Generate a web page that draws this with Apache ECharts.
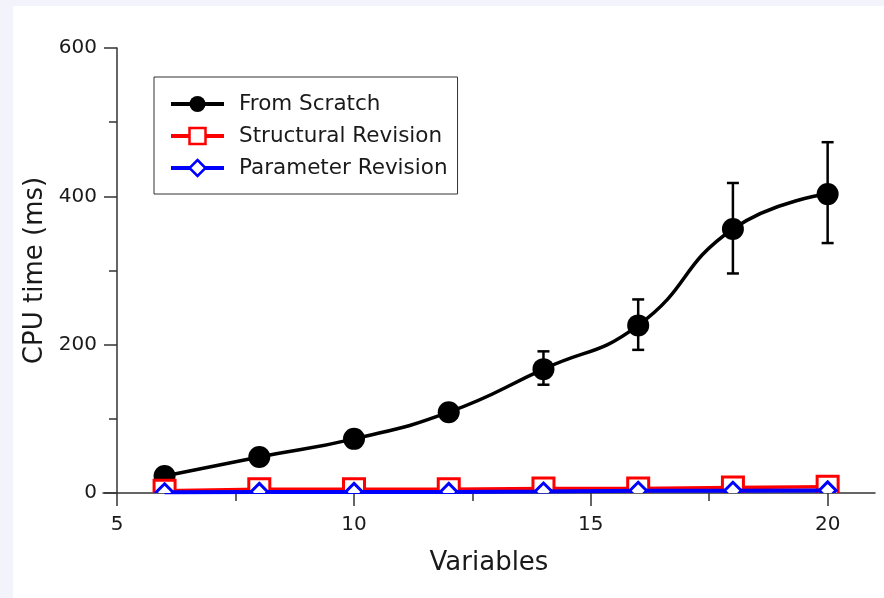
<!DOCTYPE html>
<html>
<head>
<meta charset="utf-8">
<script src="https://cdn.jsdelivr.net/npm/echarts@6/dist/echarts.min.js"></script>
<style>
  html, body { margin: 0; padding: 0; background: #ffffff; }
  #chart { width: 884px; height: 598px; }
</style>
</head>
<body>
<div id="chart"></div>
<script>
// ---- data ----
const variables = [6, 8, 10, 12, 14, 16, 18, 20];
const fromScratch = [23, 48.5, 73, 109, 167, 226, 356, 403];
const scratchLow  = [20, 44, 67, 100, 146, 193, 296, 337];
const scratchHigh = [27, 53, 80, 118, 191, 261, 418, 473];
const structuralRevision = [3, 5, 5, 5, 6, 6, 7.5, 8.5];
const parameterRevision  = [1, 1.5, 1.5, 1.5, 2, 3, 3, 3.5];
const xMajorTicks = [5, 10, 15, 20];
const xMinorTicks = [7.5, 12.5, 17.5];
const seriesNames = ['From Scratch', 'Structural Revision', 'Parameter Revision'];

const FONT = 'DejaVu Sans';
const TEXT = '#1a1a1a';
const AXIS = '#333333';

const pairs = (ys) => variables.map((x, i) => [x, ys[i]]);
const errData = variables.map((x, i) => [x, scratchLow[i], scratchHigh[i]]);

function markerSeries(values, z, makeShape) {
  return {
    type: 'custom',
    z: z,
    clip: true,
    silent: true,
    data: pairs(values),
    renderItem: function (params, api) {
      const p = api.coord([api.value(0), api.value(1)]);
      return makeShape(p[0], p[1]);
    }
  };
}

const chart = echarts.init(document.getElementById('chart'), null, { renderer: 'canvas' });

const option = {
  animation: false,
  backgroundColor: '#ffffff',
  graphic: [
    { type: 'rect', z: -10, shape: { x: 0, y: 0, width: 884, height: 6 }, style: { fill: '#f3f3fc' } },
    { type: 'rect', z: -10, shape: { x: 0, y: 0, width: 13, height: 598 }, style: { fill: '#f3f3fc' } }
  ],
  grid: { left: 103, right: 9, top: 48, bottom: 105, containLabel: false },
  legend: {
    data: seriesNames,
    orient: 'vertical',
    left: 154,
    top: 77,
    itemWidth: 53,
    itemHeight: 20,
    itemGap: 10,
    padding: [16, 10, 15, 15],
    borderColor: '#333333',
    borderWidth: 1,
    lineStyle: { width: 4 },
    itemStyle: { borderWidth: 2.5 },
    textStyle: { fontFamily: FONT, fontSize: 21.5, color: TEXT, padding: [0, 0, 0, 10] }
  },
  xAxis: [
    {
      type: 'value',
      min: 4.7,
      max: 21,
      position: 'bottom',
      name: 'Variables',
      nameLocation: 'middle',
      nameGap: 57,
      nameTextStyle: { fontFamily: FONT, fontSize: 26, color: TEXT },
      axisLine: { show: true, onZero: false, lineStyle: { color: AXIS, width: 1.5 } },
      axisTick: { show: true, customValues: xMajorTicks, length: 13, lineStyle: { color: AXIS, width: 1.5 } },
      axisLabel: { customValues: xMajorTicks, fontFamily: FONT, fontSize: 20, color: TEXT, margin: 22 },
      splitLine: { show: false }
    },
    {
      type: 'value',
      min: 4.7,
      max: 21,
      position: 'bottom',
      offset: 0,
      axisLine: { show: false },
      axisTick: { show: true, customValues: xMinorTicks, length: 8, lineStyle: { color: AXIS, width: 1.5 } },
      axisLabel: { show: false },
      splitLine: { show: false }
    }
  ],
  yAxis: {
    type: 'value',
    min: 0,
    max: 600,
    interval: 200,
    offset: -14,
    name: 'CPU time (ms)',
    nameLocation: 'middle',
    nameGap: 64,
    nameTextStyle: { fontFamily: FONT, fontSize: 26, color: TEXT },
    axisLine: { show: true, onZero: false, lineStyle: { color: AXIS, width: 1.5 } },
    axisTick: { show: true, length: 13, lineStyle: { color: AXIS, width: 1.5 } },
    minorTick: { show: true, splitNumber: 2, length: 8, lineStyle: { color: AXIS, width: 1.5 } },
    axisLabel: { fontFamily: FONT, fontSize: 20, color: TEXT, margin: 20 },
    splitLine: { show: false },
    minorSplitLine: { show: false }
  },
  series: [
    {
      type: 'custom',
      z: 2,
      silent: true,
      data: errData,
      renderItem: function (params, api) {
        const x = api.value(0);
        const lo = api.coord([x, api.value(1)]);
        const hi = api.coord([x, api.value(2)]);
        const cap = 6;
        const st = { stroke: '#000', lineWidth: 2.5 };
        return {
          type: 'group',
          children: [
            { type: 'line', shape: { x1: lo[0], y1: lo[1], x2: hi[0], y2: hi[1] }, style: st },
            { type: 'line', shape: { x1: lo[0] - cap, y1: lo[1], x2: lo[0] + cap, y2: lo[1] }, style: st },
            { type: 'line', shape: { x1: hi[0] - cap, y1: hi[1], x2: hi[0] + cap, y2: hi[1] }, style: st }
          ]
        };
      }
    },
    {
      name: seriesNames[0],
      type: 'line',
      z: 3,
      data: pairs(fromScratch),
      smooth: 0.5,
      showSymbol: false,
      symbol: 'circle',
      lineStyle: { color: '#000', width: 3.5 },
      itemStyle: { color: '#000' }
    },
    markerSeries(fromScratch, 4, (x, y) => ({
      type: 'circle', shape: { cx: x, cy: y, r: 11 }, style: { fill: '#000' }
    })),
    {
      name: seriesNames[1],
      type: 'line',
      z: 5,
      data: pairs(structuralRevision),
      showSymbol: false,
      symbol: 'rect',
      lineStyle: { color: '#ff0000', width: 3.5 },
      itemStyle: { color: '#ffffff', borderColor: '#ff0000', borderWidth: 2.5 }
    },
    markerSeries(structuralRevision, 6, (x, y) => ({
      type: 'rect', shape: { x: x - 10.5, y: y - 10.5, width: 21, height: 21 },
      style: { fill: '#ffffff', stroke: '#ff0000', lineWidth: 3 }
    })),
    {
      name: seriesNames[2],
      type: 'line',
      z: 7,
      data: pairs(parameterRevision),
      showSymbol: false,
      symbol: 'diamond',
      lineStyle: { color: '#0000ff', width: 4 },
      itemStyle: { color: '#ffffff', borderColor: '#0000ff', borderWidth: 2.5 }
    },
    markerSeries(parameterRevision, 8, (x, y) => ({
      type: 'polygon', shape: { points: [[x, y - 8.5], [x + 8.5, y], [x, y + 8.5], [x - 8.5, y]] },
      style: { fill: '#ffffff', stroke: '#0000ff', lineWidth: 3 }
    }))
  ]
};

chart.setOption(option);
</script>
</body>
</html>
